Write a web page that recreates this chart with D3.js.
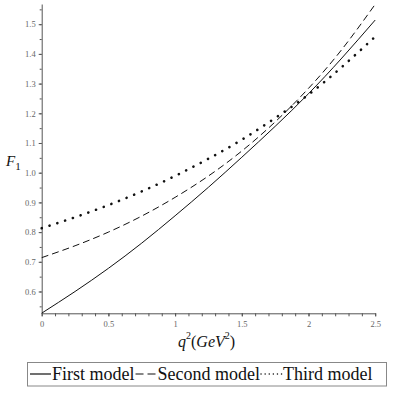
<!DOCTYPE html>
<html>
<head>
<meta charset="utf-8">
<style>
  body { margin: 0; background: #fff; }
  svg { display: block; }
  text { font-family: 'Liberation Serif', 'Times New Roman', serif; }
  .axis .domain { stroke: #555; }
  .axis .tick line { stroke: #555; }
  .axis .tick text { fill: #666; font-size: 8.5px; font-family: 'Liberation Serif', serif; }
</style>
</head>
<body>
<svg width="399" height="411"></svg>
<script src="https://d3js.org/d3.v7.min.js"></script>
<script>
// q^2 values (GeV^2)
let qValues = [0, 0.25, 0.5, 0.75, 1.0, 1.25, 1.5, 1.75, 2.0, 2.25, 2.5];
let firstModel  = [0.527, 0.600, 0.678, 0.763, 0.855, 0.951, 1.052, 1.156, 1.266, 1.386, 1.514];
let secondModel = [0.714, 0.754, 0.800, 0.854, 0.917, 0.989, 1.073, 1.171, 1.284, 1.415, 1.567];
let thirdModel  = [0.813, 0.850, 0.891, 0.937, 0.989, 1.047, 1.111, 1.184, 1.263, 1.356, 1.458];
let modelNames = ["First model", "Second model", "Third model"];
let xTicks = [0, 0.5, 1, 1.5, 2, 2.5];
let yTicks = [0.6, 0.7, 0.8, 0.9, 1.0, 1.1, 1.2, 1.3, 1.4, 1.5];

let svg = d3.select("svg");

let x = d3.scaleLinear().domain([0, 2.5]).range([41.7, 375.2]);
let y = d3.scaleLinear().domain([0.5266, 1.568]).range([313.3, 4]);

// minor ticks first
svg.append("g")
  .attr("class", "axis")
  .attr("transform", "translate(0,313.3)")
  .call(d3.axisBottom(x).tickValues(d3.range(0, 2.51, 0.1)).tickSize(3).tickFormat(""))
  .call(g => g.select(".domain").remove());

svg.append("g")
  .attr("class", "axis")
  .attr("transform", "translate(41.7,0)")
  .call(d3.axisLeft(y).tickValues(d3.range(0.55, 1.56, 0.05)).tickSize(2).tickFormat(""))
  .call(g => g.select(".domain").remove());

// major ticks + labels
svg.append("g")
  .attr("class", "axis x")
  .attr("transform", "translate(0,313.3)")
  .call(d3.axisBottom(x).tickValues(xTicks).tickSize(3).tickPadding(5)
    .tickFormat(d3.format("")).tickSizeOuter(0));

svg.append("g")
  .attr("class", "axis y")
  .attr("transform", "translate(41.7,0)")
  .call(d3.axisLeft(y).tickValues(yTicks).tickSize(3).tickPadding(3)
    .tickFormat(d3.format(".1f")).tickSizeOuter(0));

// curves
let series = [
  { name: modelNames[0], values: firstModel,  dash: null,      width: 1,   cap: "butt" },
  { name: modelNames[1], values: secondModel, dash: "7,4",     width: 1,   cap: "butt" },
  { name: modelNames[2], values: thirdModel,  dash: "0.1,8.1", width: 2.6, cap: "round" }
];

let line = d3.line()
  .x((d, i) => x(qValues[i]))
  .y(d => y(d))
  .curve(d3.curveNatural);

svg.append("g")
  .selectAll("path")
  .data(series)
  .join("path")
  .attr("fill", "none")
  .attr("stroke", "#111")
  .attr("stroke-width", d => d.width)
  .attr("stroke-linecap", d => d.cap)
  .attr("stroke-dasharray", d => d.dash)
  .attr("d", d => line(d.values));

// y label F_1
let fl = svg.append("text")
  .attr("x", 6)
  .attr("y", 166)
  .attr("font-size", "15px")
  .attr("fill", "#111");
fl.append("tspan").attr("font-style", "italic").text("F");
fl.append("tspan").attr("font-size", "11px").attr("dy", 4).text("1");

// x label q^2(GeV^2)
let xl = svg.append("text")
  .attr("x", 178)
  .attr("y", 347)
  .attr("font-size", "16px")
  .attr("fill", "#111");
xl.append("tspan").attr("font-style", "italic").text("q");
xl.append("tspan").attr("font-size", "10px").attr("dy", -8).text("2");
xl.append("tspan").attr("dy", 8).text("(");
xl.append("tspan").attr("font-style", "italic").text("GeV");
xl.append("tspan").attr("font-size", "10px").attr("dy", -8).text("2");
xl.append("tspan").attr("dy", 8).text(")");

// legend
let legend = svg.append("g");
legend.append("rect")
  .attr("x", 27.5).attr("y", 362.5)
  .attr("width", 359).attr("height", 23.5)
  .attr("fill", "none")
  .attr("stroke", "#888")
  .attr("stroke-width", 1);

let lx = 30;
series.forEach(s => {
  legend.append("line")
    .attr("x1", lx).attr("x2", lx + 21)
    .attr("y1", 374).attr("y2", 374)
    .attr("stroke", "#111")
    .attr("stroke-width", s.cap === "round" ? 1.4 : 1.2)
    .attr("stroke-linecap", s.cap)
    .attr("stroke-dasharray", s.dash ? (s.cap === "round" ? "0.1,4" : "8,4") : null);
  let t = legend.append("text")
    .attr("x", lx + 22)
    .attr("y", 380)
    .attr("font-size", "18px")
    .attr("fill", "#111")
    .text(s.name);
  lx = lx + 22 + t.node().getComputedTextLength() + 1;
});
</script>
</body>
</html>
